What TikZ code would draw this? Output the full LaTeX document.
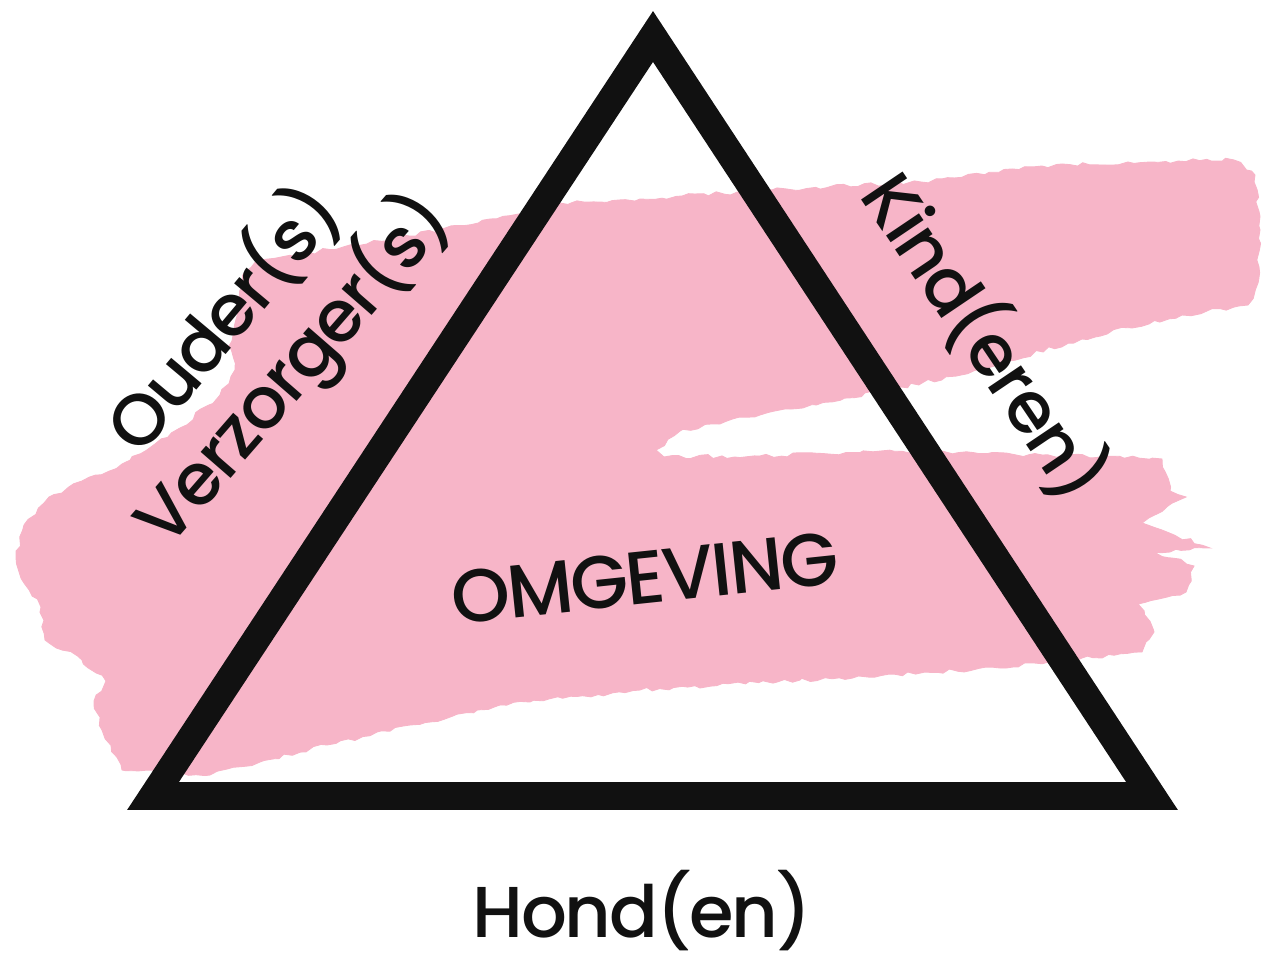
\documentclass[tikz,border=0pt]{standalone}
\usepackage{fontspec}
\setmainfont{Poppins Medium}[LetterSpace=-3]
\usetikzlibrary{decorations.pathmorphing}

\definecolor{brushpink}{HTML}{F7B5C8}
\definecolor{ink}{HTML}{111111}

\tikzset{
  lbl/.style={font=\fontsize{41}{41}\selectfont, text=ink, inner sep=0pt},
  brush/.style={fill=brushpink, draw=brushpink, line width=0.5pt,
    decorate, decoration={random steps, segment length=4pt, amplitude=1.2pt}},
}

\begin{document}
\begin{tikzpicture}[x=0.02cm, y=-0.02cm]
	\useasboundingbox (0,0) rectangle (1269,953);
	% pink brush stroke behind everything
	\path[brush] (261,260) -- (367,244) -- (490,219) -- (571,203) -- (640,199)
		-- (772,190) -- (921,182) -- (1042,166) -- (1150,162) -- (1234,160)
		-- (1255,175) -- (1260,230) -- (1258,283) -- (1248,305) -- (1182,315)
		-- (1082,339) -- (961,375) -- (901,387) -- (760,415) -- (680,431)
		-- (656,450) -- (664,457) -- (760,456) -- (881,451) -- (1042,455)
		-- (1162,459) -- (1170,491) -- (1186,497) -- (1142,523) -- (1210,548)
		-- (1154,552) -- (1194,566) -- (1186,592) -- (1138,604) -- (1154,632)
		-- (1142,652) -- (1082,658) -- (1000,668) -- (800,680) -- (640,690)
		-- (500,705) -- (327,745) -- (260,762) -- (210,775) -- (122,770)
		-- (102,730) -- (94,701) -- (106,681) -- (82,660) -- (45,640)
		-- (41,607) -- (24,583) -- (16,558) -- (24,525) -- (49,497)
		-- (82,481) -- (122,464) -- (155,444) -- (180,428) -- (220,395)
		-- (235,370) -- (229,346) -- (245,272) -- cycle;
	% triangle
	\coordinate (top) at (653,36.5);
	\coordinate (left) at (153,796);
	\coordinate (right) at (1152,796);
	\draw[ink, line width=15.9pt, miter limit=10] (top) -- (right) -- (left) -- cycle;
	% labels
	\node[lbl, font=\fontsize{42.5}{42}\selectfont, rotate=6] (omgeving) at (645,578) {OMGEVING};
	\node[lbl] (hond) at (642,911) {Hond(en)};
	\node[lbl, rotate=50] (ouder) at (222,318) {Ouder(s)};
	\node[lbl, rotate=49] (verzorger) at (293,370) {Verzorger(s)};
	\node[lbl, rotate=-56] (kind) at (986,336) {Kind(eren)};
\end{tikzpicture}
\end{document}
